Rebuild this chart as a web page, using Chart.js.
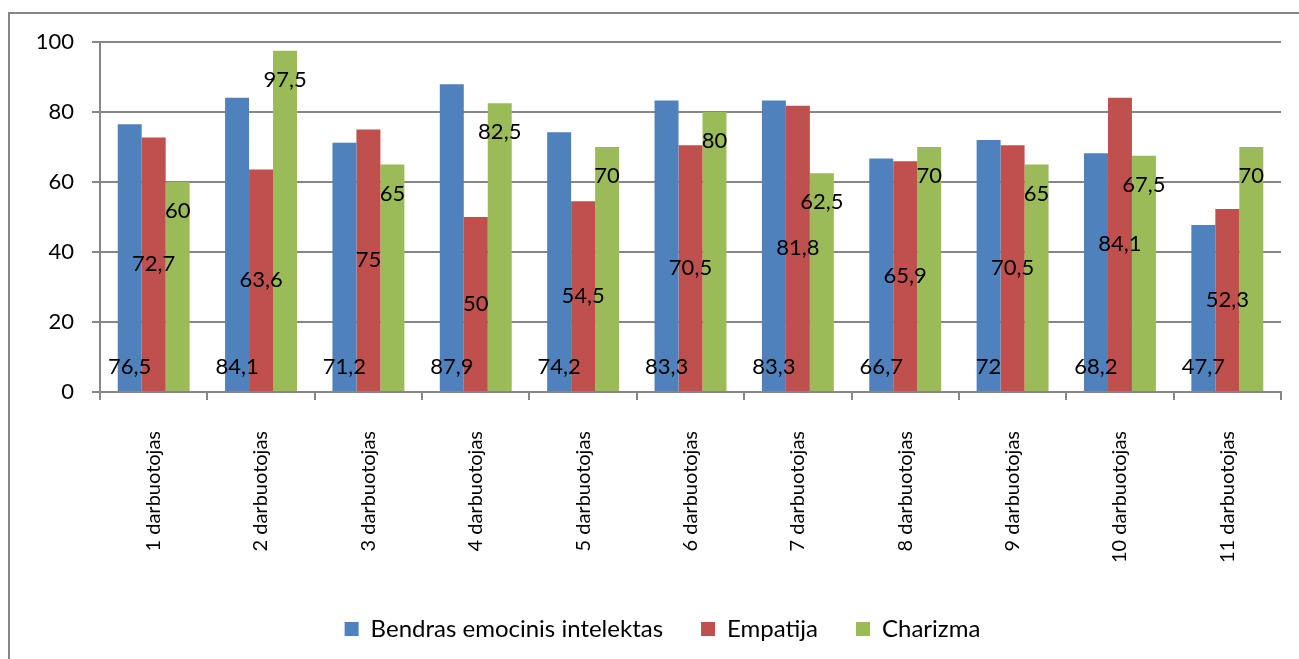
<!DOCTYPE html>
<html>
<head>
<meta charset="utf-8">
<script src="https://cdn.jsdelivr.net/npm/chart.js@4.4.1/dist/chart.umd.min.js"></script>
<style>
  html, body { margin: 0; padding: 0; background: #fff; }
  #wrap { position: relative; width: 1299px; height: 659px; }
</style>
</head>
<body>
<div id="wrap"><canvas id="grafikas" width="1299" height="659"></canvas></div>
<script>
const kategorijos = ['1 darbuotojas', '2 darbuotojas', '3 darbuotojas', '4 darbuotojas', '5 darbuotojas', '6 darbuotojas', '7 darbuotojas', '8 darbuotojas', '9 darbuotojas', '10 darbuotojas', '11 darbuotojas'];
const bendras = [76.5, 84.1, 71.2, 87.9, 74.2, 83.3, 83.3, 66.7, 72, 68.2, 47.7];
const empatija = [72.7, 63.6, 75, 50, 54.5, 70.5, 81.8, 65.9, 70.5, 84.1, 52.3];
const charizma = [60, 97.5, 65, 82.5, 70, 80, 62.5, 70, 65, 67.5, 70];
const yTicks = [0, 20, 40, 60, 80, 100];

const pilka = '#868686';
const sriftas = 'Lato, "Liberation Sans", sans-serif';

// remelis aplink visa diagrama
const remelis = {
    id: 'remelis',
    beforeDraw(chart) {
        const c = chart.ctx;
        c.save();
        c.fillStyle = '#fff';
        c.fillRect(0, 0, chart.width, chart.height);
        c.strokeStyle = pilka;
        c.lineWidth = 2;
        c.strokeRect(9, 13, 1300, 700);
        c.restore();
    }
};

// reiksmiu etiketes (kaip Excel'yje: apacioje, viduryje, virsuje)
const etiketes = {
    id: 'etiketes',
    afterDatasetsDraw(chart) {
        const c = chart.ctx;
        c.save();
        c.font = '22px ' + sriftas;
        c.fillStyle = '#000';
        c.textAlign = 'center';
        c.textBaseline = 'middle';
        chart.data.datasets.forEach((ds, i) => {
            const meta = chart.getDatasetMeta(i);
            meta.data.forEach((bar, j) => {
                const txt = String(ds.data[j]).replace('.', ',');
                let y;
                if (i === 0) y = bar.base - 24;
                else if (i === 1) y = (bar.y + bar.base) / 2;
                else y = bar.y + 29;
                c.fillText(txt, bar.x, y);
            });
        });
        c.restore();
    }
};

const ctx = document.getElementById('grafikas').getContext('2d');
const grafikas = new Chart(ctx, {
    type: 'bar',
    data: {
        labels: kategorijos,
        datasets: [
            { label: 'Bendras emocinis intelektas', data: bendras, backgroundColor: '#4F81BD' },
            { label: 'Empatija', data: empatija, backgroundColor: '#C0504D' },
            { label: 'Charizma', data: charizma, backgroundColor: '#9BBB59' }
        ]
    },
    options: {
        responsive: false,
        animation: false,
        // legenda Excel'yje paslinkta i desine, todel desine puse isplesta
        layout: { padding: { left: 0, top: 42, right: -26, bottom: 8 } },
        datasets: { bar: { categoryPercentage: 0.67, barPercentage: 1 } },
        scales: {
            x: {
                grid: { offset: true, drawOnChartArea: false, color: pilka, lineWidth: 2, tickLength: 8 },
                border: { color: pilka, width: 2 },
                ticks: { minRotation: 90, maxRotation: 90, padding: 31, color: '#000', font: { family: sriftas, size: 20 } },
                afterFit(scale) { scale.height = 187; }
            },
            y: {
                min: 0,
                max: 100,
                afterBuildTicks(scale) { scale.ticks = yTicks.map(v => ({ value: v })); },
                grid: { color: pilka, lineWidth: 2, tickLength: 8 },
                border: { color: pilka, width: 2 },
                ticks: { padding: 18, color: '#000', font: { family: sriftas, size: 22 } },
                afterFit(scale) { scale.width = 100; }
            },
            tarpas: {
                position: 'right',
                grid: { display: false },
                border: { display: false },
                ticks: { display: false },
                afterFit(scale) { scale.width = 44; }
            }
        },
        plugins: {
            legend: {
                position: 'bottom',
                labels: { boxWidth: 14, boxHeight: 14, padding: 38, color: '#000', font: { family: sriftas, size: 24 } }
            },
            tooltip: { enabled: false }
        }
    },
    plugins: [remelis, etiketes]
});
</script>
</body>
</html>
